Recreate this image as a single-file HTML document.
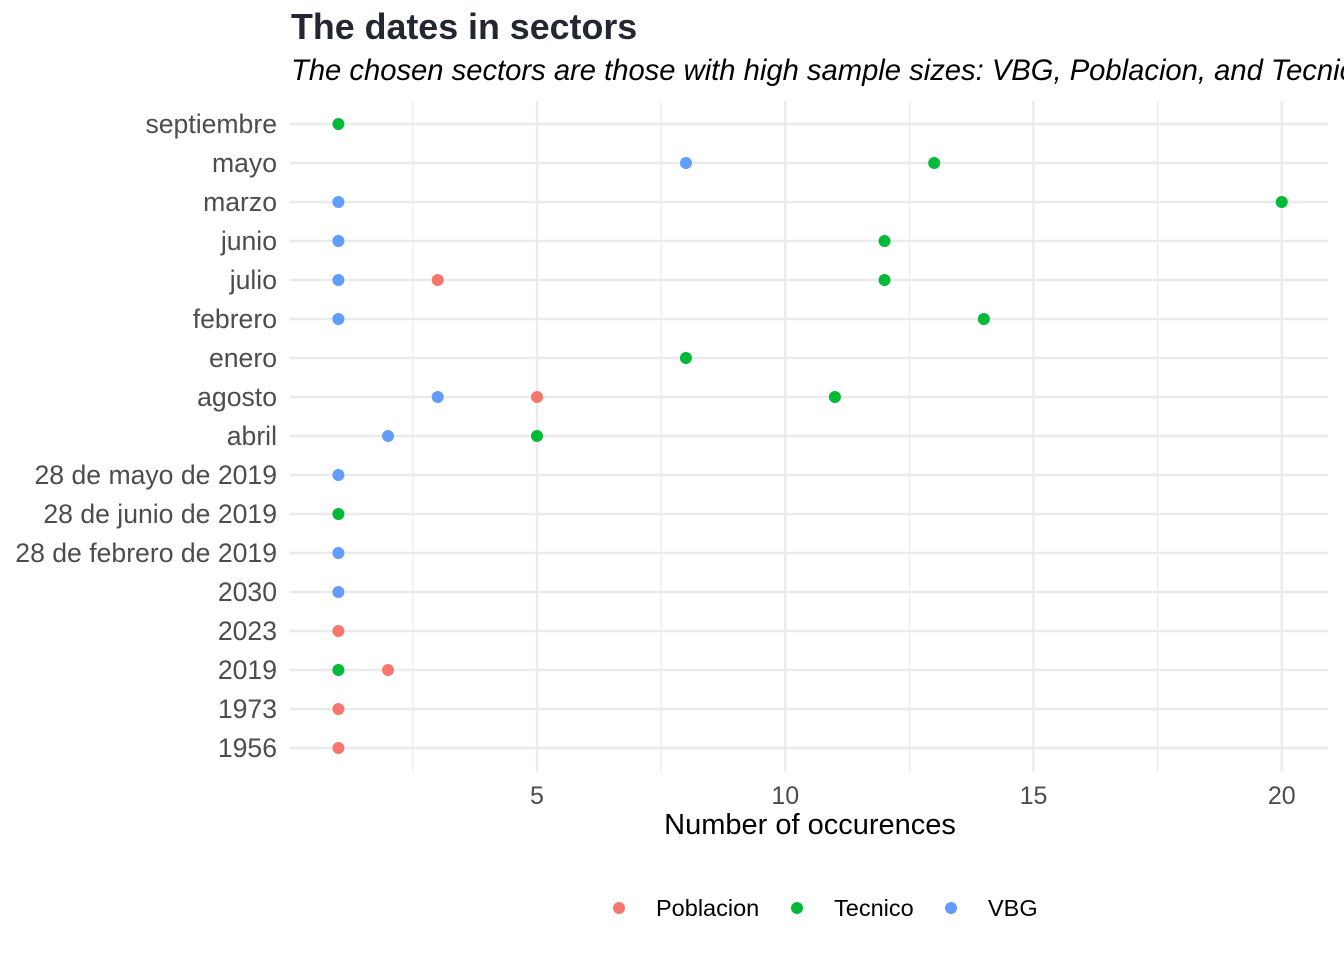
<!DOCTYPE html>
<html><head><meta charset="utf-8"><style>
body{margin:0;background:#fff;overflow:hidden;}
svg{display:block;font-family:"Liberation Sans",sans-serif;}
</style></head><body>
<svg id="c" width="1344" height="960">
<text x="291" y="39" font-size="35.8" font-weight="bold" fill="#222731">The dates in sectors</text>
<text x="291" y="80" font-size="29.2" font-style="italic" fill="#000">The chosen sectors are those with high sample sizes: VBG, Poblacion, and Tecnico</text>
<g id="grid"></g><g id="pts"></g>
<text x="810" y="834" font-size="29" text-anchor="middle" fill="#000">Number of occurences</text>
<g id="legend"></g>
</svg>
<script>
const categories=["septiembre","mayo","marzo","junio","julio","febrero","enero","agosto","abril","28 de mayo de 2019","28 de junio de 2019","28 de febrero de 2019","2030","2023","2019","1973","1956"];
const poblacion=[null,null,null,null,3,null,null,5,null,null,null,null,null,1,2,1,1];
const tecnico=[1,13,20,12,12,14,8,11,5,null,1,null,null,null,1,null,null];
const vbg=[null,8,1,1,1,1,null,3,2,1,null,1,1,null,null,null,null];
const xTicks=[5,10,15,20];
const seriesNames=["Poblacion","Tecnico","VBG"];
const colors=["#F8766D","#00BA38","#619CFF"];
const NS="http://www.w3.org/2000/svg";
const X=v=>537+(v-5)*49.65;
const Y=i=>124+i*39;
function mk(t,a,p){const e=document.createElementNS(NS,t);for(const k in a)e.setAttribute(k,a[k]);p.appendChild(e);return e;}
const g=document.getElementById('grid');
[2.5,7.5,12.5,17.5].forEach(v=>{const l=mk('line',{x1:X(v),x2:X(v),y1:101,y2:772,stroke:'#ebebeb','stroke-width':1.2},g);

});
xTicks.forEach(v=>{const l=mk('line',{x1:X(v),x2:X(v),y1:101,y2:772,stroke:'#ebebeb','stroke-width':2.4},g);


const t=mk('text',{x:X(v),y:804,'font-size':25,'text-anchor':'middle',fill:'#4d4d4d'},g);t.textContent=v;

});
categories.forEach((c,i)=>{const l=mk('line',{x1:290,x2:1328,y1:Y(i),y2:Y(i),stroke:'#ebebeb','stroke-width':2.4},g);


const t=mk('text',{x:277,y:Y(i)+9,'font-size':26.6,'text-anchor':'end',fill:'#4d4d4d'},g);t.textContent=c;

});
const p=document.getElementById('pts');
[poblacion,tecnico,vbg].forEach((s,k)=>s.forEach((v,i)=>{if(v==null)return;
const c=mk('circle',{cx:X(v),cy:Y(i),r:6,fill:colors[k]},p);

}));
const lg=document.getElementById('legend');
const lx=[619,797,951];
seriesNames.forEach((n,k)=>{const c=mk('circle',{cx:lx[k],cy:908,r:6,fill:colors[k]},lg);


const t=mk('text',{x:lx[k]+37,y:916,'font-size':23.5,fill:'#000'},lg);t.textContent=n;

});
</script>
</body></html>
